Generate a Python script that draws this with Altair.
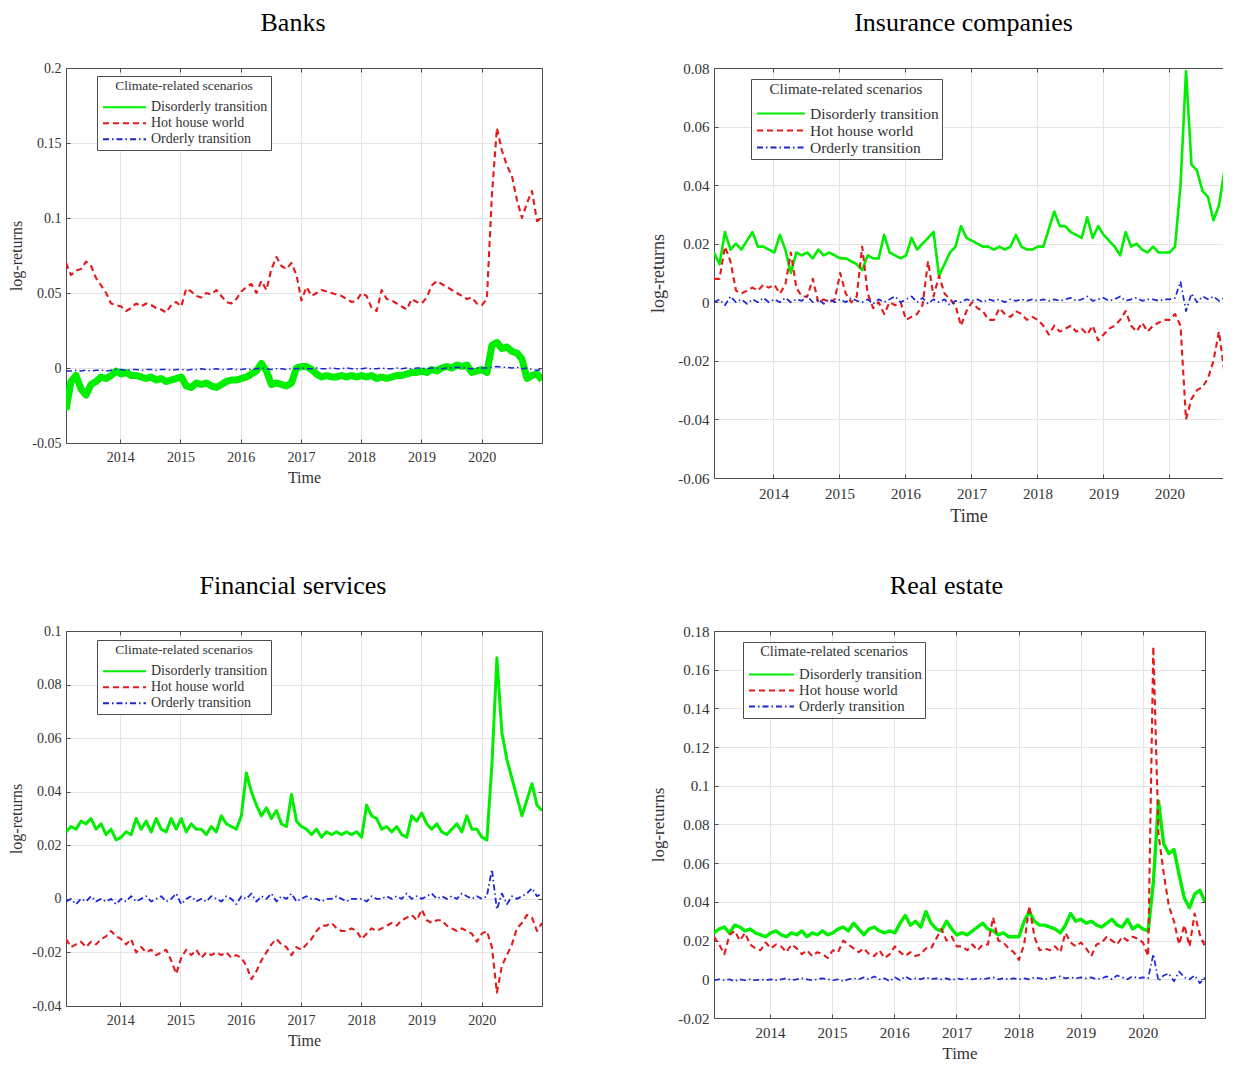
import altair as alt
import pandas as pd

SERIF = "Liberation Serif"
SCEN = ["Disorderly transition", "Hot house world", "Orderly transition"]
COLORS = ["#00ee00", "#e3191c", "#1b27d4"]
DASHES = [[1, 0], [6, 4], [6, 3, 1.5, 3]]
XTICKS = [2014, 2015, 2016, 2017, 2018, 2019, 2020]

# monthly observation dates (decimal years), Feb 2013 .. Dec 2020
N = 96
dates = [2013.1 + i * 7.9 / (N - 1) for i in range(N)]

# all series are in thousandths of a log-return (1 = 0.001)
# rows: 2013 (11 months), 2014..2019 (12 each), 2020 (13)
banks_dis = [
    -28, -9, -5, -14, -18, -11, -9, -6, -7, -5, -2,
    -4, -3, -5, -5, -6, -7, -6, -8, -7, -9, -8, -7,
    -6, -12, -13, -10, -11, -10, -12, -13, -11, -9, -8, -8,
    -7, -6, -4, -2, 3, -2, -11, -10, -11, -12, -10, 0,
    1, 1, -1, -4, -6, -5, -6, -6, -5, -6, -5, -6,
    -5, -6, -5, -7, -6, -7, -6, -5, -5, -4, -3, -3,
    -2, -3, -1, -2, 0, 1, 0, 2, 1, 2, -3, -2,
    -1, -3, 15, 17, 13, 14, 11, 10, 6, -7, -5, -4, -8,
]
banks_hot = [
    70, 62, 65, 66, 71, 68, 60, 55, 50, 43, 42,
    41, 38, 40, 43, 41, 43, 42, 40, 39, 37, 42, 44,
    41, 53, 51, 48, 47, 50, 49, 52, 48, 44, 43, 46,
    51, 54, 56, 50, 58, 52, 66, 74, 68, 66, 70, 62,
    45, 54, 48, 50, 52, 51, 50, 49, 48, 46, 44, 45,
    50, 48, 40, 38, 52, 46, 45, 43, 41, 39, 46, 44,
    43, 47, 55, 58, 56, 54, 52, 50, 48, 46, 47, 43,
    42, 46, 115, 160, 145, 135, 128, 112, 100, 110, 118, 98, 100,
]
banks_ord = [
    -2, -2, -1.5, -2, -1.5, -2, -1.5, -1.5, -2, -1.5, -1,
    -1, -1.5, -1, -1, -1.5, -1, -1, -1.5, -1, -1, -1.5, -1,
    -1, -1.5, -1, -1, -0.5, -1, -1, -0.5, -1, -1, -0.5, -1,
    -1, -0.5, -1, -0.5, 0, -0.5, -1, -0.5, -0.5, -1, -0.5, -0.5,
    0, -0.5, -0.5, 0, -0.5, -0.5, 0, -0.5, -0.5, 0, -0.5, -0.5,
    -0.5, 0, -0.5, -0.5, 0, -0.5, -0.5, 0, -0.5, 0, -0.5, 0,
    0, -0.5, 0, 0, -0.5, 0, 0, 0.5, 0, 0, -0.5, 0,
    0, 0, 0.5, 1, 0.5, 0.5, 0, 0.5, -0.5, 0, -1, -1.5, -1,
]

ins_dis = [
    17, 13, 24, 18, 20, 18, 21, 24, 19, 19, 18,
    17, 23, 18, 10, 17, 16, 17, 15, 18, 16, 17, 16,
    15, 15, 14, 13, 11, 16, 15, 15, 23, 17, 16, 15,
    16, 22, 18, 20, 22, 24, 9, 13, 17, 19, 26, 22,
    21, 20, 19, 19, 18, 19, 18, 19, 23, 19, 18, 18,
    19, 19, 25, 31, 26, 26, 24, 23, 22, 29, 22, 26,
    23, 21, 19, 16, 24, 19, 20, 18, 17, 19, 17, 17,
    17, 19, 40, 79, 47, 45, 38, 36, 28, 33, 45, 36, 31,
]
ins_hot = [
    8, 8, 19, 14, 4, 3, 4, 5, 4, 6, 5,
    6, 3, 6, 17, 5, 2, 2, 8, 0, 1, 0, 1,
    10, 3, 0, 2, 19, 3, -2, 0, -4, 0, -1, 0,
    -6, -5, -4, -1, 14, 2, 9, 3, 1, -1, -8, -3,
    0, -2, -3, -6, -6, -2, -4, -5, -3, -4, -6, -5,
    -6, -8, -11, -8, -10, -9, -8, -10, -9, -11, -8, -13,
    -11, -9, -8, -6, -3, -8, -10, -7, -10, -8, -7, -6,
    -6, -4, -8, -40, -33, -30, -29, -26, -20, -10, -24, -21, -17,
]
ins_ord = [
    0, 1, -1, 2, 0, 1, -0.5, 1, 0, 1.5, 0,
    1, 0, 1.5, 0, 1, 0.5, 2, 0, 1, -0.5, 1, 0,
    1, 0, 1.5, 0.5, 0, 1, -0.5, 1, 0, 1, 2, 0,
    1, 2, 0, 1.5, -0.5, 1, 0, 1, -1, 0.5, 0, 1,
    0.5, 1, 0, 1, 0.5, 1, 0, 1, 0.5, 1, 0.5, 1,
    0.5, 1, 0.5, 1, 0.5, 1, 1.5, 0.5, 1, 2, 0.5, 1,
    1.5, 0.5, 1, 2, 0.5, 1, 1.5, 0.5, 1, 1, 0.5, 1,
    1, 1.5, 7, -3, 3, 0, 2, 1, 2, 0.5, 1.5, 2, 0,
]

fin_dis = [
    25, 27, 26, 29, 28, 30, 26, 28, 24, 26, 22,
    23, 25, 24, 30, 26, 29, 25, 30, 26, 25, 30, 26,
    30, 25, 28, 26, 26, 24, 27, 25, 31, 28, 27, 26,
    31, 47, 40, 35, 31, 34, 30, 33, 28, 27, 39, 29,
    27, 26, 24, 26, 23, 25, 24, 25, 24, 25, 24, 25,
    23, 35, 31, 30, 26, 27, 25, 27, 24, 23, 31, 29,
    32, 28, 26, 28, 25, 24, 26, 28, 25, 31, 26, 26,
    23, 22, 50, 90, 62, 52, 45, 38, 31, 37, 43, 35, 33,
]
fin_hot = [
    -15, -18, -17, -16, -18, -16, -17, -15, -14, -12, -14,
    -15, -17, -15, -20, -18, -20, -19, -21, -20, -19, -23, -28,
    -22, -19, -21, -19, -22, -20, -21, -20, -21, -20, -22, -21,
    -22, -25, -30, -27, -23, -20, -17, -15, -17, -18, -21, -18,
    -19, -17, -15, -12, -10, -10, -9, -11, -12, -12, -11, -12,
    -15, -13, -11, -12, -11, -10, -9, -10, -8, -7, -6, -8,
    -4, -8, -9, -8, -8, -10, -11, -12, -11, -12, -13, -16,
    -13, -12, -18, -35, -25, -21, -17, -11, -9, -6, -7, -12, -9,
]
fin_ord = [
    -1, 0, -2, 0, -1, 1, -1, 0, -1, 0, -2,
    0, -1, 1, -1, 0, 1, -1, 0, 1, -1, 0, 2,
    -2, 0, 1, -1, 0, -1, 1, 0, -1, 1, 0, -2,
    1, 0, 2, -1, 1, 0, 2, -1, 1, 0, 2, -1,
    0, 1, 0, 0, -1, 0, 0, 1, 0, -1, 0, 0,
    0, -1, 1, 0, 0, 1, 0, 1, 0, 2, 0, 1,
    0, 1, 2, 0, 1, 0, 1, 0, 2, 1, 0, 1,
    0, 1, 11, -4, 2, -2, 1, 0, 1, 2, 4, 1, 2,
]

re_dis = [
    24, 26, 27, 24, 28, 27, 25, 26, 24, 23, 22,
    24, 25, 23, 22, 24, 23, 25, 22, 24, 23, 25, 23,
    24, 26, 27, 25, 29, 26, 23, 26, 27, 25, 24, 25,
    24, 29, 33, 28, 30, 27, 35, 29, 26, 25, 30, 26,
    23, 24, 23, 25, 27, 29, 26, 25, 23, 24, 22, 22,
    22, 30, 35, 30, 28, 28, 27, 26, 24, 28, 34, 30,
    31, 29, 30, 28, 27, 29, 31, 28, 27, 31, 26, 28,
    26, 25, 50, 92, 70, 65, 67, 54, 42, 37, 44, 46, 40,
]
re_hot = [
    22, 18, 13, 23, 25, 20, 24, 18, 16, 15, 19,
    16, 18, 17, 14, 18, 16, 13, 15, 12, 14, 13, 11,
    15, 14, 20, 18, 16, 14, 16, 13, 12, 15, 11, 13,
    17, 14, 12, 14, 12, 13, 16, 16, 21, 26, 20, 22,
    17, 17, 15, 18, 15, 18, 18, 32, 20, 19, 16, 14,
    10, 18, 38, 22, 15, 16, 15, 17, 14, 24, 19, 17,
    19, 16, 12, 18, 19, 22, 20, 18, 22, 20, 22, 21,
    19, 12, 172, 75, 55, 38, 30, 18, 28, 17, 34, 23, 17,
]
re_ord = [
    -0.5, 0, -0.5, 0, -1, 0, -0.5, 0, -0.5, 0, -0.5,
    0, -0.5, 0, 0.5, -0.5, 0, 0.5, 0, -0.5, 0, 0.5, 0,
    -0.5, 0, -1, 0, 0.5, 0, 1, 0, 1.5, 0, 0.5, -1,
    1, -0.5, 1.5, 0, 0.5, 0, 1, 0, 0.5, 0, 0.5, -0.5,
    0.5, 0, 0.5, 0, 0.5, 0, 0.5, 1, 0, 0.5, 0, 0.5,
    0, 0.5, 0, 1, 0.5, 0, 0.5, 1, 1.5, 0.5, 1, 0.5,
    1, 0.5, 1, 0, 0.5, 1.5, 0, 2, 1, 0, 1.5, 0.5,
    1, 0.5, 13, -1, 2, 3, -1, 4, 1, 0, 2, -2, 1,
]

LBL = "datum.value < 0 ? '-' + format(-datum.value, '~g') : format(datum.value, '~g')"
INK = "#4d4d4d"
TXT = "#333333"


def panel(title, series, ydom, yticks, width, height, xmax, leg, fs, widths,
          dx, right=True):
    rows = []
    for name, vals in zip(SCEN, series):
        for t, v in zip(dates, vals):
            rows.append({"t": t, "v": v / 1000.0, "s": name})
    df = pd.DataFrame(rows)
    base = alt.Chart(df)

    xs = alt.Scale(domain=[2013.1, xmax], nice=False, zero=False)
    ys = alt.Scale(domain=ydom, nice=False, zero=False)

    legend = alt.Legend(
        title="Climate-related scenarios", orient="none",
        legendX=leg["x"], legendY=leg["y"], direction="vertical",
        fillColor="white", strokeColor=INK, padding=3, cornerRadius=0,
        titleFont=SERIF, titleFontSize=leg["tfs"], titleFontWeight="normal",
        titleColor=TXT, titleAnchor="middle", titlePadding=leg["tp"],
        labelFont=SERIF, labelFontSize=leg["lfs"], labelColor=TXT, labelOffset=4,
        symbolType="stroke", symbolSize=leg["sym"] ** 2, symbolStrokeWidth=2,
        symbolOffset=2, clipHeight=leg["row"], rowPadding=0,
    )
    color = alt.Color("s:N", scale=alt.Scale(domain=SCEN, range=COLORS), legend=legend)
    dash = alt.StrokeDash("s:N", scale=alt.Scale(domain=SCEN, range=DASHES), legend=legend)

    ax_x = alt.Axis(values=XTICKS, format="d", grid=True, gridColor="#e4e4e4",
                    domain=True, domainColor=INK, ticks=False, tickSize=0,
                    labelFont=SERIF, labelFontSize=fs["tick"], labelColor=TXT,
                    labelPadding=fs["lp"], title="Time", titleFont=SERIF,
                    titleFontSize=fs["axt"], titleFontWeight="normal",
                    titleColor=TXT, titlePadding=fs["tpx"])
    ax_y = alt.Axis(values=yticks, labelExpr=LBL, grid=True, gridColor="#e4e4e4",
                    domain=True, domainColor=INK, ticks=False, tickSize=0,
                    labelFont=SERIF, labelFontSize=fs["tick"], labelColor=TXT,
                    labelPadding=5, title="log-returns", titleFont=SERIF,
                    titleFontSize=fs["axt"], titleFontWeight="normal",
                    titleColor=TXT, titlePadding=fs["tpy"])
    ax_top = alt.Axis(orient="top", values=XTICKS, labels=False, ticks=False,
                      grid=False, domain=True, domainColor=INK)
    ax_right = alt.Axis(orient="right", values=yticks, labels=False, ticks=False,
                        grid=False, domain=True, domainColor=INK)

    def ticks(orient, vals):
        return alt.Axis(orient=orient, offset=-4, values=vals, labels=False,
                        ticks=True, tickSize=4, tickColor=INK, domain=False,
                        grid=False)

    def line(name, sw, xa, ya):
        return base.transform_filter(alt.datum.s == name).mark_line(
            clip=True, strokeWidth=sw, strokeJoin="round"
        ).encode(
            x=alt.X("t:Q", scale=xs, axis=xa, title=None),
            y=alt.Y("v:Q", scale=ys, axis=ya, title=None),
            color=color, strokeDash=dash,
        )

    g = line(SCEN[0], widths[0], ax_x, ax_y).encode(
        x=alt.X("t:Q", scale=xs, axis=ax_x), y=alt.Y("v:Q", scale=ys, axis=ax_y))
    r = line(SCEN[1], widths[1], ax_top, ax_right if right else None)
    b = line(SCEN[2], widths[2], ticks("bottom", XTICKS), ticks("left", yticks))
    inv = base.transform_filter(alt.datum.s == SCEN[2]).mark_line(
        clip=True, strokeOpacity=0
    ).encode(
        x=alt.X("t:Q", scale=xs, axis=ticks("top", XTICKS), title=None),
        y=alt.Y("v:Q", scale=ys, axis=ticks("right", yticks) if right else None, title=None),
    )
    return alt.layer(g, r, b, inv).resolve_axis(
        x="independent", y="independent"
    ).properties(
        width=width, height=height,
        title=alt.TitleParams(text=title, font=SERIF, fontSize=26, fontWeight="normal",
                              color="black", anchor="middle", frame="group",
                              dx=dx, offset=25),
    )


fs_small = {"tick": 14, "axt": 16, "lp": 7, "tpx": 5, "tpy": 7}
fs_big = {"tick": 15, "axt": 18, "lp": 8, "tpx": 6, "tpy": 10}
fs_re = {"tick": 15, "axt": 17, "lp": 7, "tpx": 5, "tpy": 10}

p_banks = panel("Banks", [banks_dis, banks_hot, banks_ord], [-0.05, 0.2],
                [-0.05, 0, 0.05, 0.1, 0.15, 0.2], 476, 375, 2021.0,
                {"x": 31, "y": 8, "tfs": 13.5, "lfs": 14, "tp": 7, "sym": 43, "row": 15.5},
                fs_small, [7, 2.1, 1.5], dx=-11)
p_ins = panel("Insurance companies", [ins_dis, ins_hot, ins_ord], [-0.06, 0.08],
              [-0.06, -0.04, -0.02, 0, 0.02, 0.04, 0.06, 0.08], 509, 410, 2020.812,
              {"x": 37, "y": 11, "tfs": 15, "lfs": 15.5, "tp": 8, "sym": 48, "row": 17},
              fs_big, [2.6, 2.1, 1.7], dx=-5, right=False)
p_fin = panel("Financial services", [fin_dis, fin_hot, fin_ord], [-0.04, 0.1],
              [-0.04, -0.02, 0, 0.02, 0.04, 0.06, 0.08, 0.1], 476, 375, 2021.0,
              {"x": 31, "y": 9, "tfs": 13.5, "lfs": 14, "tp": 7, "sym": 43, "row": 15.5},
              fs_small, [3, 2.1, 1.8], dx=-11)
p_re = panel("Real estate", [re_dis, re_hot, re_ord], [-0.02, 0.18],
             [-0.02, 0, 0.02, 0.04, 0.06, 0.08, 0.1, 0.12, 0.14, 0.16, 0.18], 491, 387, 2021.0,
             {"x": 29, "y": 11, "tfs": 14.5, "lfs": 14.8, "tp": 7, "sym": 45, "row": 16},
             fs_re, [3.4, 2.1, 1.7], dx=-13)

chart = alt.concat(
    p_banks, p_ins, p_fin, p_re, columns=2,
    spacing=alt.RowColnumber(row=153, column=172),
    bounds="flush", align="each",
).resolve_scale(
    color="independent", strokeDash="independent"
).resolve_legend(
    color="independent", strokeDash="independent"
).properties(
    padding={"left": 0, "top": 2, "right": 0, "bottom": 0},
    background="white",
).configure_view(strokeWidth=0)

chart.save("out.html", embed_options={"renderer": "svg", "actions": False})
